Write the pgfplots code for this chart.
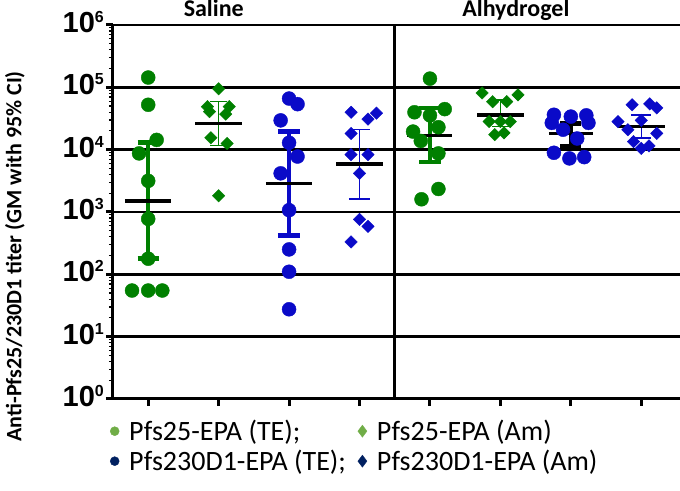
\documentclass[border=0pt]{standalone}
\usepackage{fontspec}
\setmainfont{Carlito}
\newfontfamily\arialf{Liberation Sans}
\usepackage{pgfplots}
\pgfplotsset{compat=1.18}
\definecolor{dgreen}{RGB}{0,128,0}
\definecolor{dblue}{RGB}{10,10,200}
\definecolor{lgreen}{RGB}{112,173,71}
\definecolor{navy}{RGB}{0,32,96}
\newcommand{\tl}[1]{{\arialf\bfseries 10\raisebox{10pt}{\fontsize{16}{16}\selectfont #1}}}
\begin{document}
\begin{tikzpicture}
\begin{axis}[
  scale only axis, width=567pt, height=374pt,
  ymode=log, ymin=1, ymax=1000000,
  xmin=0.5, xmax=8.55,
  axis x line*=bottom, axis y line*=left,
  axis line style={line width=3pt, -},
  ytick={1,10,100,1000,10000,100000,1000000},
  yticklabels={\tl{0},\tl{1},\tl{2},\tl{3},\tl{4},\tl{5},\tl{6}},
  yticklabel style={font=\fontsize{29}{29}\selectfont, inner sep=2pt, yshift=3pt},
  xtick={1,2,3,4,5,6,7,8}, xticklabels={},
  tick align=outside,
  major tick length=7pt, minor tick length=4pt,
  every tick/.style={black},
  every major tick/.append style={line width=3pt},
  every minor tick/.append style={line width=1.2pt},
  ymajorgrids, major grid style={line width=2.5pt, black},
  clip=false,
  unbounded coords=jump,
  legend columns=2,
  legend cell align=left,
  legend style={at={(0,0)}, anchor=north west, xshift=-6pt, yshift=-17pt,
    draw=none, fill=none, font=\fontsize{28}{32}\selectfont, row sep=4pt,
    /tikz/every odd column/.append style={column sep=8pt},
    /tikz/every even column/.append style={column sep=10pt}},
]
\coordinate (bl) at (rel axis cs:0,0);
\coordinate (tr) at (rel axis cs:1,1);
% divider
\addplot[black, line width=3pt, forget plot] coordinates {(4.5,1)(4.5,1000000)};
% Saline: Pfs25-EPA (TE)
\addplot[only marks, mark=*, mark size=7pt, dgreen, forget plot] coordinates {
(1,143600)(1,52500)(1.12,14350)(0.87,8710)(1,3160)(1,776)(1,178)(0.77,55)(1,55)(1.20,55)};
% Saline: Pfs25-EPA (Am)
\addplot[only marks, mark=square*, mark options={rotate=45}, mark size=4.4pt, dgreen, forget plot] coordinates {
(2,94600)(1.84,49000)(1.87,40700)(2.15,49000)(2.10,37150)(1.89,15500)(2.12,12600)(2,1820)};
% Saline: Pfs230D1-EPA (TE)
\addplot[only marks, mark=*, mark size=7pt, dblue, forget plot] coordinates {
(3,66100)(3.12,53700)(2.88,29500)(3,12900)(3.12,7760)(2.88,4170)(3,1070)(3,251)(3,110)(3,27.5)};
% Saline: Pfs230D1-EPA (Am)
\addplot[only marks, mark=square*, mark options={rotate=45}, mark size=4.4pt, dblue, forget plot] coordinates {
(3.88,39800)(4.24,38500)(4.12,30900)(3.88,18200)(3.88,8320)(4.12,8320)(4,4170)(4,759)(4.12,589)(3.88,331)};
% Alhydrogel: Pfs25-EPA (TE)
\addplot[only marks, mark=*, mark size=7pt, dgreen, forget plot] coordinates {
(5,138000)(4.78,39800)(5.21,44700)(5,35500)(5.12,22900)(4.76,19500)(4.87,13800)(5.12,8710)(5.12,2340)(4.88,1600)};
% Alhydrogel: Pfs25-EPA (Am)
\addplot[only marks, mark=square*, mark options={rotate=45}, mark size=4.4pt, dgreen, forget plot] coordinates {
(5.74,81300)(6.25,75900)(5.89,58900)(6.09,58900)(5.84,28200)(6.14,28200)(6,28200)(5.92,17400)(6.05,18600)};
% Alhydrogel: Pfs230D1-EPA (TE)
\addplot[only marks, mark=*, mark size=7pt, dblue, forget plot] coordinates {
(6.76,36300)(7,33900)(7.22,35500)(6.73,26900)(7.25,26900)(6.89,20900)(7.09,15100)(6.76,8910)(6.98,7240)(7.19,7590)};
% Alhydrogel: Pfs230D1-EPA (Am)
\addplot[only marks, mark=square*, mark options={rotate=45}, mark size=4.4pt, dblue, forget plot] coordinates {
(7.87,52500)(8.12,54300)(8.22,46800)(7.67,28200)(8,29500)(7.81,20900)(8.22,18200)(7.89,13500)(8,10500)(8.11,11500)};
% CIs thick green
\addplot[dgreen, line width=4.5pt, forget plot] coordinates {
(1,178)(1,13000) (nan,nan) (0.85,13000)(1.15,13000) (nan,nan) (0.85,178)(1.15,178) (nan,nan)
(5,6310)(5,46800) (nan,nan) (4.85,46800)(5.15,46800) (nan,nan) (4.85,6310)(5.15,6310)};
% CI thick blue
\addplot[dblue, line width=4.5pt, forget plot] coordinates {
(3,417)(3,19500) (nan,nan) (2.84,19500)(3.16,19500) (nan,nan) (2.84,417)(3.16,417)};
% CI thick black
\addplot[black, line width=4.5pt, forget plot] coordinates {
(7,11200)(7,26300) (nan,nan) (6.85,26300)(7.15,26300) (nan,nan) (6.85,11200)(7.15,11200)};
% CI thin green
\addplot[dgreen, line width=1.5pt, forget plot] coordinates {
(2,11750)(2,58900) (nan,nan) (1.88,58900)(2.12,58900) (nan,nan) (1.88,11750)(2.12,11750) (nan,nan)
(6,23400)(6,63100) (nan,nan) (5.88,63100)(6.12,63100) (nan,nan) (5.88,23400)(6.12,23400)};
% CI thin blue
\addplot[dblue, line width=1.5pt, forget plot] coordinates {
(4,1620)(4,20900) (nan,nan) (3.85,20900)(4.15,20900) (nan,nan) (3.85,1620)(4.15,1620) (nan,nan)
(8,15500)(8,36300) (nan,nan) (7.86,36300)(8.14,36300) (nan,nan) (7.86,15500)(8.14,15500)};
% geometric means
\addplot[black, line width=3.5pt, forget plot] coordinates {
(0.67,1510)(1.33,1510) (nan,nan) (1.67,26300)(2.33,26300) (nan,nan) (2.67,2880)(3.33,2880) (nan,nan)
(3.67,5890)(4.33,5890) (nan,nan) (4.68,17000)(5.32,17000) (nan,nan) (5.67,36300)(6.33,36300) (nan,nan)
(6.69,18200)(7.31,18200) (nan,nan) (7.67,23400)(8.33,23400)};
% legend
\addlegendimage{only marks, mark=*, mark size=4.5pt, lgreen}
\addlegendentry{Pfs25-EPA (TE);}
\addlegendimage{only marks, mark=diamond*, mark size=6pt, lgreen}
\addlegendentry{Pfs25-EPA (Am)}
\addlegendimage{only marks, mark=*, mark size=4.5pt, navy}
\addlegendentry{Pfs230D1-EPA (TE);}
\addlegendimage{only marks, mark=diamond*, mark size=6pt, navy}
\addlegendentry{Pfs230D1-EPA (Am)}
% titles and label
\node[anchor=base, yshift=8pt, font=\bfseries\fontsize{24}{24}\selectfont] at (axis cs:1.93,1000000) {Saline};
\node[anchor=base, yshift=8pt, font=\bfseries\fontsize{24}{24}\selectfont] at (axis cs:6.22,1000000) {Alhydrogel};
\node[rotate=90, anchor=west, font=\bfseries\fontsize{22}{22}\selectfont] at ([xshift=-98pt]rel axis cs:0,-0.123) {Anti-Pfs25/230D1 titer (GM with 95\% CI)};
\end{axis}
\pgfresetboundingbox
\path ([shift={(-113pt,-92pt)}]bl) rectangle ([shift={(0pt,25pt)}]tr);
\end{tikzpicture}
\end{document}
